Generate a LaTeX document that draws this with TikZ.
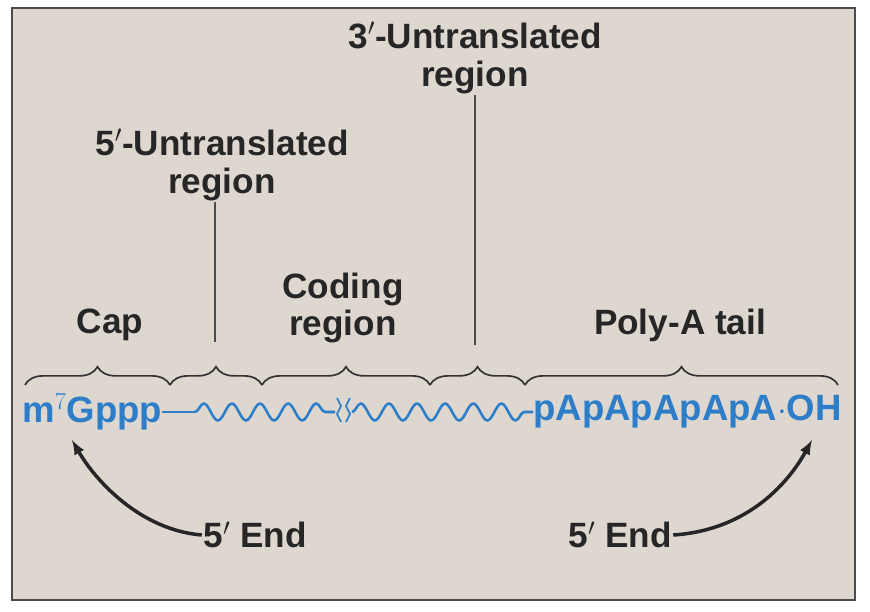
\documentclass[tikz,border=0pt]{standalone}
\usepackage{fontspec}
\setmainfont{Liberation Sans}
\usetikzlibrary{positioning,decorations.pathreplacing,decorations.pathmorphing}
\definecolor{paper}{RGB}{221,215,207}
\definecolor{rnablue}{RGB}{45,125,200}
\tikzset{
  lbl/.style={font=\bfseries\fontsize{25}{27}\selectfont,align=center,text=black!85,inner sep=1pt},
  seq/.style={font=\bfseries\fontsize{26}{28}\selectfont,text=rnablue,inner sep=0pt},
  brc/.style={decorate,decoration={brace,amplitude=13pt},line width=1.2pt,black!80},
  wave/.style={decorate,decoration={snake,amplitude=6pt,segment length=20pt},line width=1.8pt,rnablue}
}
\begin{document}
\begin{tikzpicture}[x=0.025cm,y=-0.025cm]
  \useasboundingbox (0,0) rectangle (870,612);
  \draw[fill=paper,draw=black!70,line width=1.2pt] (12,8) rectangle (855,600);
  % labels
  \node[lbl] (cap) at (110,325) {Cap};
  \node[lbl] (cod) at (343,308) {Coding\\region};
  \node[lbl] (poly) at (680,325) {Poly-A tail};
  \node[lbl] (utr5) at (222,165) {5$'$-Untranslated\\region};
  \node[lbl] (utr3) at (475,58) {3$'$-Untranslated\\region};
  % braces
  \draw[brc] (25,385) -- (170,385);
  \draw[brc] (170,385) -- (262,385);
  \draw[brc] (262,385) -- (430,385);
  \draw[brc] (430,385) -- (525,385);
  \draw[brc] (525,385) -- (838,385);
  \coordinate (p5) at (215,342);
  \coordinate (p3) at (475,345);
  \draw[line width=0.8pt,black!70] (utr5.south -| p5) -- (p5);
  \draw[line width=0.8pt,black!70] (utr3.south -| p3) -- (p3);
  % strand
  \node[seq,anchor=west] (g) at (22,412) {m$^{7}$Gppp};
  \node[seq,anchor=east] (a) at (842,412) {pApApApApA$\cdot$OH};
  \coordinate (w1) at (195,412);
  \coordinate (w2) at (335,412);
  \coordinate (w3) at (352,412);
  \draw[line width=1.8pt,rnablue] (g.east) -- (w1);
  \draw[wave] (w1) -- (w2);
  \draw[line width=1.2pt,rnablue] (337,398) -- ++(4,8) -- ++(-4,8) -- ++(4,8);
  \draw[line width=1.2pt,rnablue] (350,398) -- ++(-4,8) -- ++(4,8) -- ++(-4,8);
  \draw[wave] (w3) -- (a.west);
  % ends
  \node[lbl] (e5) at (255,535) {5$'$ End};
  \node[lbl] (e3) at (620,535) {5$'$ End};
  \draw[-latex,line width=2.5pt,black!85] (e5.west) .. controls (140,530) and (95,480) .. (72,440);
  \draw[-latex,line width=2.5pt,black!85] (e3.east) .. controls (750,530) and (790,480) .. (812,440);
\end{tikzpicture}
\end{document}
